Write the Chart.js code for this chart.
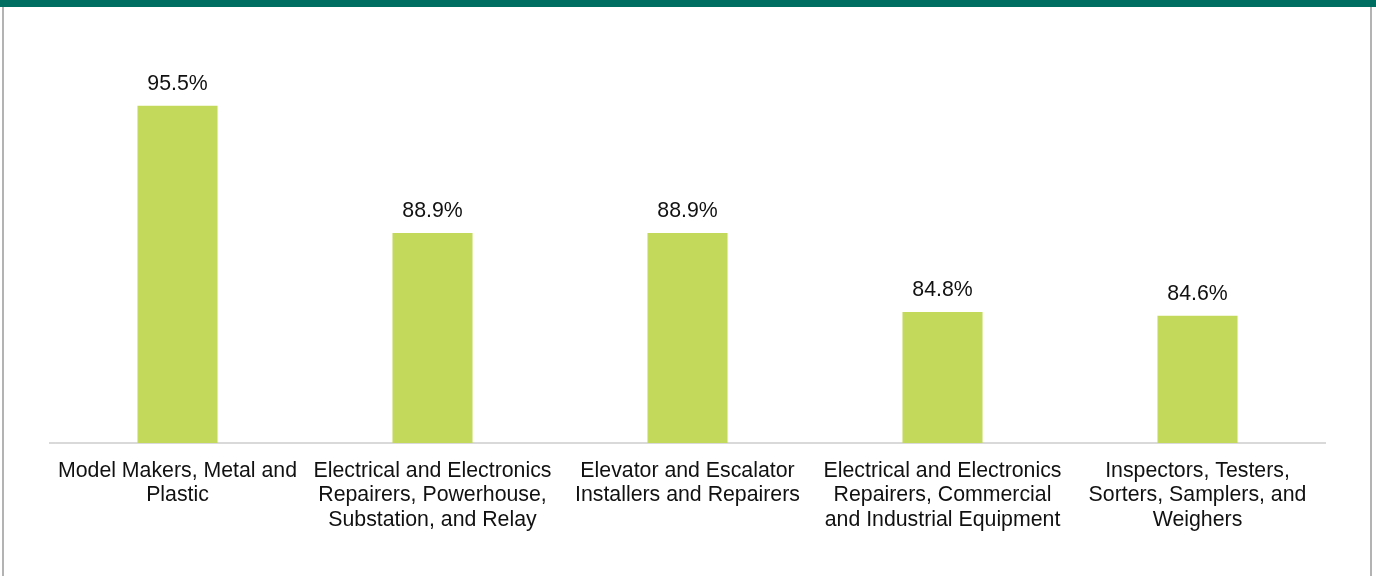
<!DOCTYPE html>
<html>
<head>
<meta charset="utf-8">
<script src="https://cdn.jsdelivr.net/npm/chart.js@4"></script>
<style>
  body { margin: 0; background: #fff; }
  #wrap { position: relative; width: 1376px; height: 576px; overflow: hidden; }
  #frame { position: absolute; left: 2px; top: 0; width: 1366px; height: 600px;
           border-left: 2px solid #b3b3b3; border-right: 2px solid #b3b3b3; }
  #band { position: absolute; left: 0; top: 0; width: 1376px; height: 7px; background: #006e60; }
  canvas { position: absolute; left: 0; top: 0; }
</style>
</head>
<body>
<div id="wrap">
  <div id="frame"></div>
  <canvas id="chart" width="1376" height="576"></canvas>
  <div id="band"></div>
</div>
<script>
const occupations = [
  ["Model Makers, Metal and", "Plastic"],
  ["Electrical and Electronics", "Repairers, Powerhouse,", "Substation, and Relay"],
  ["Elevator and Escalator", "Installers and Repairers"],
  ["Electrical and Electronics", "Repairers, Commercial", "and Industrial Equipment"],
  ["Inspectors, Testers,", "Sorters, Samplers, and", "Weighers"]
];
const shares = [95.5, 88.9, 88.9, 84.8, 84.6];

const FONT = "'Liberation Sans', Arial, sans-serif";

// percent labels sitting above each bar
const valueLabels = {
  id: "valueLabels",
  afterDatasetsDraw(chart) {
    const ctx = chart.ctx;
    const meta = chart.getDatasetMeta(0);
    ctx.save();
    ctx.font = "21.3px " + FONT;
    ctx.fillStyle = "#111";
    ctx.textAlign = "center";
    ctx.textBaseline = "middle";
    meta.data.forEach((bar, i) => {
      ctx.fillText(shares[i].toFixed(1) + "%", bar.x, bar.y - 22);
    });
    ctx.restore();
  }
};

new Chart(document.getElementById("chart"), {
  type: "bar",
  data: {
    labels: occupations,
    datasets: [{
      data: shares,
      backgroundColor: "#c3d95b",
      categoryPercentage: 1,
      barPercentage: 0.314
    }]
  },
  options: {
    responsive: false,
    animation: false,
    layout: { padding: { left: 50, right: 51, top: 19, bottom: 0 } },
    plugins: { legend: { display: false }, tooltip: { enabled: false } },
    scales: {
      y: { display: false, min: 78, max: 100 },
      x: {
        grid: { display: false, drawTicks: false },
        border: { display: true, color: "#d9d9d9", width: 2 },
        ticks: {
          color: "#111",
          padding: 16,
          maxRotation: 0,
          autoSkip: false,
          font: { family: FONT, size: 21.3, lineHeight: 1.14 }
        },
        afterFit(scale) { scale.height = 133; }
      }
    }
  },
  plugins: [valueLabels]
});
</script>
</body>
</html>
